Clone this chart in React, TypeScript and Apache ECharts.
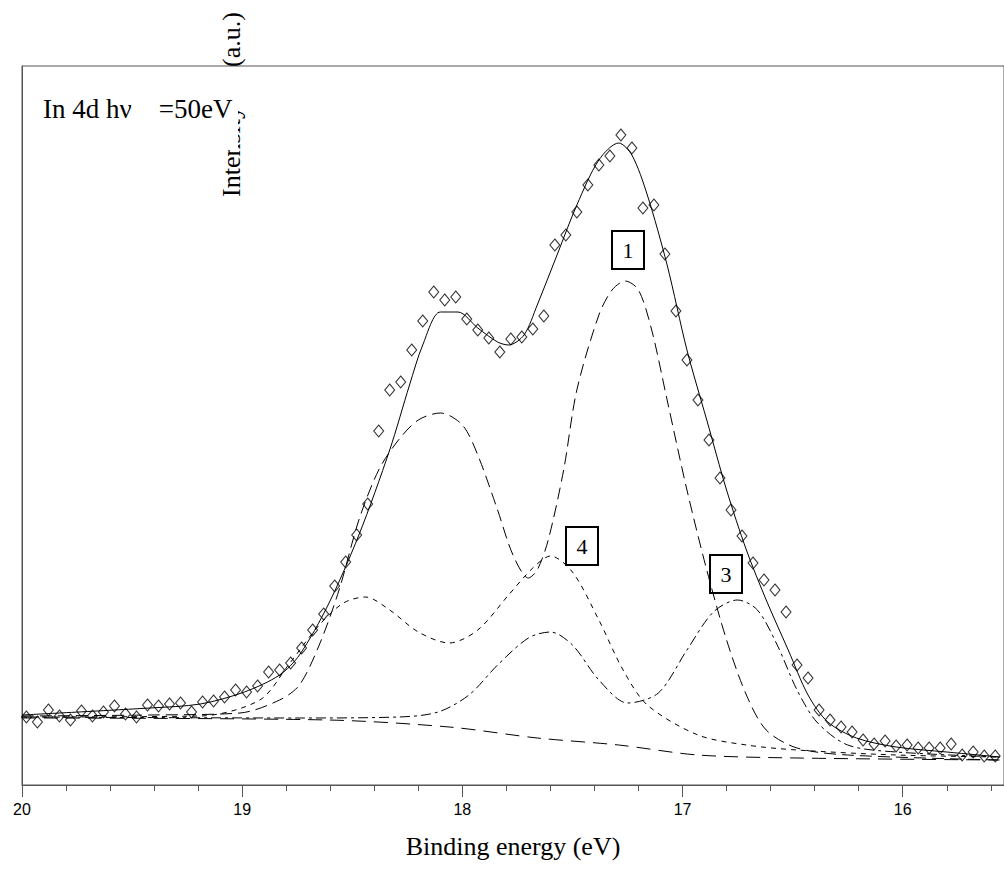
import React, { useEffect, useRef } from 'react'
import * as echarts from 'echarts'

// measured spectrum (binding energy in eV, intensity in a.u.)
const dataE = [19.98, 19.93, 19.88, 19.83, 19.78, 19.73, 19.68, 19.63, 19.58, 19.53, 19.48, 19.43, 19.38, 19.33, 19.28, 19.23, 19.18, 19.13, 19.08, 19.03, 18.98, 18.93, 18.88, 18.83, 18.78, 18.73, 18.68, 18.63, 18.58, 18.53, 18.48, 18.43, 18.38, 18.33, 18.28, 18.23, 18.18, 18.13, 18.08, 18.03, 17.98, 17.93, 17.88, 17.83, 17.78, 17.73, 17.68, 17.63, 17.58, 17.53, 17.48, 17.43, 17.38, 17.33, 17.28, 17.23, 17.18, 17.13, 17.08, 17.03, 16.98, 16.93, 16.88, 16.83, 16.78, 16.73, 16.68, 16.63, 16.58, 16.53, 16.48, 16.43, 16.38, 16.33, 16.28, 16.23, 16.18, 16.13, 16.08, 16.03, 15.98, 15.93, 15.88, 15.83, 15.78, 15.73, 15.68, 15.63, 15.58]
const dataI = [68, 63, 75, 69, 65, 74, 69, 73, 79, 71, 68, 80, 79, 81, 82, 73, 83, 84, 88, 95, 93, 99, 113, 115, 122, 137, 155, 171, 199, 223, 250, 281, 354, 395, 403, 435, 464, 493, 485, 488, 466, 455, 447, 433, 446, 448, 456, 469, 540, 550, 573, 600, 620, 629, 650, 637, 577, 580, 531, 474, 425, 385, 345, 307, 275, 249, 222, 205, 195, 173, 120, 107, 75, 65, 58, 53, 45, 41, 44, 39, 40, 37, 37, 37, 41, 30, 33, 29, 29]

// fitted envelope
const fitE = [20.0, 19.42, 19.19, 18.99, 18.83, 18.74, 18.61, 18.47, 18.33, 18.24, 18.18, 18.10, 18.02, 17.93, 17.84, 17.79, 17.72, 17.66, 17.57, 17.48, 17.38, 17.29, 17.23, 17.16, 17.07, 16.98, 16.89, 16.80, 16.71, 16.62, 16.52, 16.43, 16.34, 16.21, 16.03, 15.80, 15.56]
const fitI = [70, 77, 81, 93, 110, 130, 180, 250, 335, 400, 440, 473, 473, 457, 443, 440, 450, 480, 530, 580, 625, 642, 630, 590, 520, 435, 365, 295, 235, 185, 135, 90, 63, 47, 38, 33, 28]

// component 1 (doublet)
const c1E = [20.0, 19.42, 19.01, 18.83, 18.74, 18.65, 18.56, 18.47, 18.38, 18.29, 18.20, 18.10, 18.00, 17.93, 17.84, 17.77, 17.70, 17.66, 17.61, 17.54, 17.48, 17.38, 17.32, 17.26, 17.20, 17.14, 17.07, 16.98, 16.89, 16.80, 16.71, 16.62, 16.48, 16.25, 15.56]
const c1I = [69, 70, 72, 85, 100, 140, 195, 265, 315, 345, 365, 372, 360, 330, 275, 230, 207, 215, 245, 315, 395, 470, 495, 504, 495, 455, 385, 295, 215, 145, 90, 55, 37, 30, 25]

// component 4 (doublet)
const c4E = [20.0, 19.19, 18.92, 18.79, 18.65, 18.54, 18.44, 18.33, 18.20, 18.06, 17.93, 17.79, 17.68, 17.60, 17.50, 17.38, 17.27, 17.16, 16.93, 16.71, 16.48, 16.03, 15.56]
const c4I = [68, 69, 85, 120, 160, 182, 188, 175, 153, 142, 155, 190, 217, 229, 213, 165, 115, 80, 50, 40, 35, 30, 28]

// component 3 (doublet)
const c3E = [20.0, 18.74, 18.29, 18.11, 17.97, 17.84, 17.70, 17.60, 17.50, 17.38, 17.25, 17.11, 16.98, 16.86, 16.75, 16.66, 16.57, 16.48, 16.39, 16.25, 16.03, 15.56]
const c3I = [68, 67, 68, 73, 90, 120, 147, 153, 140, 105, 82, 92, 135, 173, 185, 175, 140, 95, 63, 40, 33, 28]

// background
const bgE = [20.0, 18.61, 18.06, 17.66, 17.29, 16.93, 16.48, 15.56]
const bgI = [67, 65, 58, 47, 40, 30, 27, 25]

const majorTicks = [16, 17, 18, 19, 20]
const minorTicks = [15.6, 15.8, 16.2, 16.4, 16.6, 16.8, 17.2, 17.4, 17.6, 17.8, 18.2, 18.4, 18.6, 18.8, 19.2, 19.4, 19.6, 19.8]

const zip = (xs: number[], ys: number[]) => xs.map((x, i) => [x, ys[i]])

const serif = '"Liberation Serif", "DejaVu Serif", serif'

const lineSeries = (name: string, xs: number[], ys: number[], type: any, width = 1) => ({
  name,
  type: 'line',
  data: zip(xs, ys),
  smooth: 0.3,
  showSymbol: false,
  lineStyle: { color: '#000', width, type },
  z: 2,
})

const boxLabel = (txt: string, cx: number, cy: number) => ({
  type: 'group',
  children: [
    { type: 'rect', shape: { x: cx - 16, y: cy - 19, width: 32, height: 38 }, style: { fill: '#fff', stroke: '#000', lineWidth: 2 } },
    { type: 'text', x: cx, y: cy, style: { text: txt, font: `22px ${serif}`, fill: '#000', align: 'center', verticalAlign: 'middle' } },
  ],
})

export default function App() {
  const ref = useRef<HTMLDivElement>(null)

  useEffect(() => {
    if (!ref.current) return
    document.body.style.margin = '0'
    document.body.style.overflow = 'hidden'
    const chart = echarts.init(ref.current, undefined, { renderer: 'svg' })
    chart.setOption({
      animation: false,
      grid: { left: 22, top: 66, right: -4, bottom: 105, show: true, borderColor: '#555', borderWidth: 1 },
      xAxis: [
        {
          type: 'value', min: 15.54, max: 20, inverse: true,
          axisLine: { lineStyle: { color: '#555' } },
          axisTick: { customValues: majorTicks, length: 12, lineStyle: { color: '#555' } },
          axisLabel: { customValues: majorTicks, color: '#000', fontSize: 16, fontFamily: 'Liberation Sans, Arial, sans-serif', margin: 16 },
          splitLine: { show: false },
          name: 'Binding energy (eV)', nameLocation: 'middle', nameGap: 48,
          nameTextStyle: { fontFamily: serif, fontSize: 26, color: '#000' },
        },
        {
          type: 'value', min: 15.54, max: 20, inverse: true, position: 'bottom',
          axisLine: { show: false },
          axisTick: { customValues: minorTicks, length: 6, lineStyle: { color: '#555' } },
          axisLabel: { show: false }, splitLine: { show: false },
        },
      ],
      yAxis: {
        type: 'value', min: 0, max: 719,
        axisLine: { show: true, lineStyle: { color: '#555' } },
        axisTick: { show: false }, axisLabel: { show: false }, splitLine: { show: false },
      },
      series: [
        lineSeries('background', bgE, bgI, [14, 8]),
        lineSeries('component 3', c3E, c3I, [10, 4, 3, 4]),
        lineSeries('component 4', c4E, c4I, [5, 5]),
        lineSeries('component 1', c1E, c1I, [12, 6]),
        lineSeries('fit', fitE, fitI, 'solid'),
        {
          name: 'data', type: 'scatter', data: zip(dataE, dataI), symbol: 'diamond', symbolSize: [10, 12],
          itemStyle: { color: 'transparent', borderColor: '#000', borderWidth: 1 }, z: 3,
        },
      ],
      graphic: [
        { type: 'text', x: 231, y: 197, rotation: Math.PI / 2, style: { text: 'Intensity      (a.u.)', font: `26px ${serif}`, fill: '#000', align: 'left', verticalAlign: 'middle' }, z: 10 },
        { type: 'rect', shape: { x: 204, y: 72, width: 34, height: 78 }, style: { fill: '#fff' }, z: 11 },
        { type: 'text', left: 43, top: 95, style: { text: 'In 4d hν    =50eV', font: `27px ${serif}`, fill: '#000' }, z: 12 },
        { ...boxLabel('1', 628, 250), z: 12 },
        { ...boxLabel('4', 582, 546), z: 12 },
        { ...boxLabel('3', 726, 574), z: 12 },
      ],
    })
    return () => chart.dispose()
  }, [])

  return <div ref={ref} style={{ width: 1004, height: 890 }} />
}
